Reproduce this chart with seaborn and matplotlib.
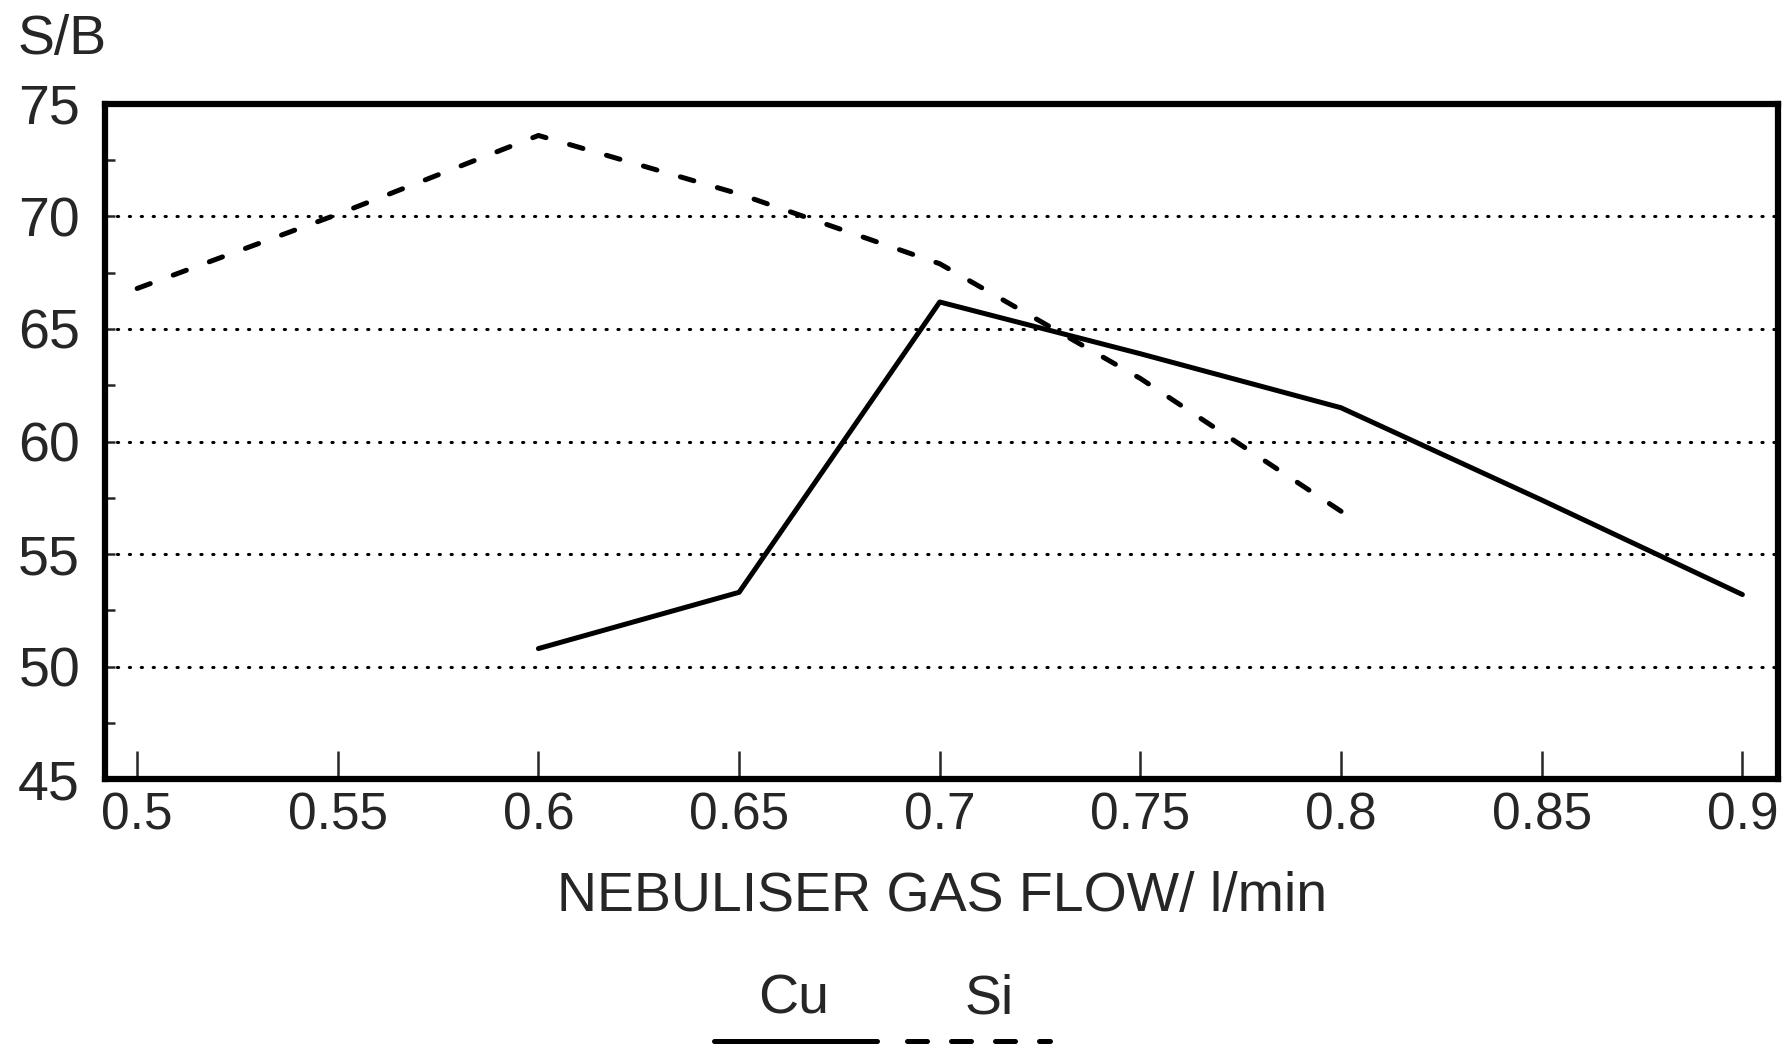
import numpy as np
import pandas as pd
import matplotlib.pyplot as plt
import seaborn as sns
from matplotlib.lines import Line2D
from matplotlib.ticker import MultipleLocator

# values
flow = [0.5, 0.55, 0.6, 0.65, 0.7, 0.75, 0.8, 0.85, 0.9]
cu_flow = [0.6, 0.65, 0.7, 0.75, 0.8, 0.85, 0.9]
cu_sb = [50.8, 53.3, 66.2, 63.9, 61.5, 57.4, 53.2]
si_flow = [0.5, 0.55, 0.6, 0.65, 0.7, 0.75, 0.8]
si_sb = [66.8, 70.1, 73.6, 71.0, 67.9, 62.8, 56.9]
y_ticks = [45, 50, 55, 60, 65, 70, 75]

df = pd.concat([
    pd.DataFrame({'flow': cu_flow, 'sb': cu_sb, 'element': 'Cu'}),
    pd.DataFrame({'flow': si_flow, 'sb': si_sb, 'element': 'Si'}),
])

sns.set_style('white')
plt.rcParams['font.family'] = ['Liberation Sans', 'DejaVu Sans']

DPI = 100
LW = 3.6
fig = plt.figure(figsize=(17.86, 10.5), dpi=DPI)
ax = fig.add_axes([0.0588, 0.258, 0.937, 0.643])

dash = (2.8, 4.8)
sns.lineplot(data=df, x='flow', y='sb', style='element',
             dashes={'Cu': '', 'Si': dash}, color='black', linewidth=LW,
             legend=False, ax=ax, estimator=None, sort=False)

ax.set_xlim(0.492, 0.909)
ax.set_ylim(45, 75)

for ln in ax.get_lines():
    ln.set_dash_capstyle('round')
    ln.set_solid_capstyle('round')
    ln.set_solid_joinstyle('round')
    if ln.get_linestyle() != '-':
        # stretch the gaps a little so the dashed line starts and ends on a dash
        pts = ax.transData.transform(np.column_stack(ln.get_data()))
        length = np.hypot(*np.diff(pts, axis=0).T).sum()
        unit = LW * DPI / 72
        on = dash[0] * unit
        n = max(1, round((length - on) / (sum(dash) * unit)))
        period = (length - on) / n
        ln.set_linestyle((0, (dash[0], period / unit - dash[0])))

ax.set_xticks(flow)
ax.set_xticklabels([f'{v:g}' for v in flow])
ax.set_yticks(y_ticks)
ax.yaxis.set_minor_locator(MultipleLocator(2.5))

for y in y_ticks[1:-1]:
    ax.axhline(y, color='black', linewidth=2.2, linestyle=(0, (0.4, 3.5)),
               dash_capstyle='round', zorder=0)

for s in ax.spines.values():
    s.set_linewidth(4.5)
    s.set_color('black')

ax.tick_params(axis='x', direction='in', length=20, width=1.8, pad=9,
               labelsize=37, bottom=True)
ax.tick_params(axis='y', which='both', direction='in', length=7, width=1.8,
               pad=18, labelsize=40, left=True)

ax.set_xlabel('NEBULISER GAS FLOW/ l/min', fontsize=40, labelpad=22)
ax.set_ylabel('')
fig.text(0.035, 0.962, 'S/B', fontsize=40, ha='center', va='center')

# legend: labels above the line samples
fig.text(0.4446, 0.048, 'Cu', fontsize=40, ha='center', va='center')
fig.text(0.554, 0.048, 'Si', fontsize=40, ha='center', va='center')
fig.add_artist(Line2D([0.400, 0.491], [0.009, 0.009], color='black',
                      linewidth=LW, transform=fig.transFigure,
                      solid_capstyle='round'))
fig.add_artist(Line2D([0.508, 0.588], [0.009, 0.009], color='black',
                      linewidth=LW, linestyle=(0, (4, 4.8)),
                      transform=fig.transFigure, dash_capstyle='round'))

fig.savefig('out.png', dpi=DPI)
